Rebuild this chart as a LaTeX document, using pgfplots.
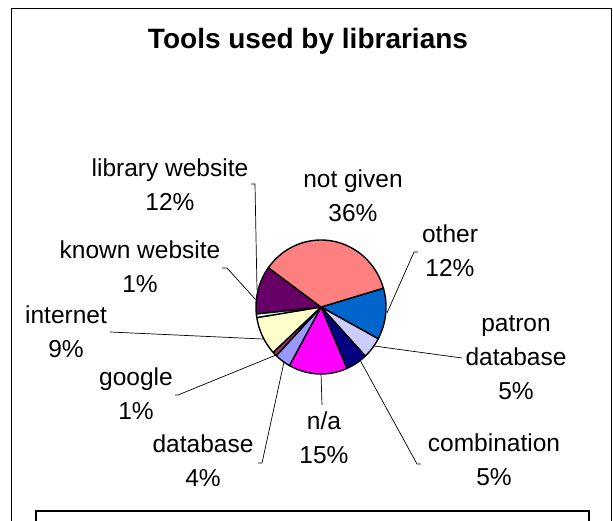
\documentclass[border=0pt]{standalone}
\usepackage{pgfplots}
\pgfplotsset{compat=1.18}
\usepackage{fontspec}
\setmainfont{Liberation Sans}

\definecolor{cOther}{HTML}{0066CC}
\definecolor{cPatron}{HTML}{CCCCFF}
\definecolor{cComb}{HTML}{000080}
\definecolor{cNA}{HTML}{FF00FF}
\definecolor{cDB}{HTML}{9999FF}
\definecolor{cGoogle}{HTML}{993366}
\definecolor{cInternet}{HTML}{FFFFCC}
\definecolor{cKnown}{HTML}{CCFFFF}
\definecolor{cLibrary}{HTML}{660066}
\definecolor{cNotGiven}{HTML}{FF8080}

\tikzset{lbl/.style={font=\fontsize{24.5}{34}\selectfont, align=center, inner sep=0pt}}

\def\cx{321}
\def\cy{213}
\def\rx{65}
\def\ry{67}
\xdef\acur{16.3}
% one pie slice: #1 = percentage, #2 = colour (clockwise from \acur)
\newcommand\slice[2]{%
  \pgfmathsetmacro\aend{\acur-3.6*#1}%
  \edef\doslice{\noexpand\addplot[fill=#2, draw=black, line width=1.4pt, line join=round, domain=\aend:\acur, samples=40]
     ({\cx+\rx*cos(x)},{\cy+\ry*sin(x)}) -- (axis cs:\cx,\cy) -- cycle;}%
  \doslice
  \xdef\acur{\aend}%
}

\begin{document}
\begin{tikzpicture}
\begin{axis}[
  hide axis, x=1pt, y=1pt,
  xmin=0, xmax=613, ymin=0, ymax=520,
  anchor=south west, at={(0,0)},
  clip=false,
]
% frames
\draw[black, line width=0.9pt] (axis cs:11,512) -- (axis cs:611.5,512) -- (axis cs:611.5,-10);
\draw[black, line width=0.9pt] (axis cs:11,512) -- (axis cs:11,-10);
\draw[black, line width=2pt] (axis cs:36,-10) -- (axis cs:36,9) -- (axis cs:589,9) -- (axis cs:589,-10);

% title
\node[anchor=base, font=\bfseries\fontsize{28}{34}\selectfont] at (axis cs:308,471) {Tools used by librarians};

% leader lines
\addplot[black, line width=0.7pt] coordinates {(251,336) (255,336) (257,230)};
\addplot[black, line width=0.7pt] coordinates {(222,252) (227,252) (255.4,220.6)};
\addplot[black, line width=0.7pt] coordinates {(110,188) (263,181)};
\addplot[black, line width=0.7pt] coordinates {(175,125) (178,125) (276,165)};
\addplot[black, line width=0.7pt] coordinates {(258,57) (262,57) (284,158)};
\addplot[black, line width=0.7pt] coordinates {(321,147) (322,115)};
\addplot[black, line width=0.7pt] coordinates {(360,160) (417,56) (421,56)};
\addplot[black, line width=0.7pt] coordinates {(374,174) (462,162)};
\addplot[black, line width=0.7pt] coordinates {(387,207) (414,268) (418,268)};

% pie slices, clockwise
\slice{12.4}{cOther}
\slice{5.2}{cPatron}
\slice{5.4}{cComb}
\slice{14.6}{cNA}
\slice{4.0}{cDB}
\slice{1.1}{cGoogle}
\slice{9.3}{cInternet}
\slice{0.9}{cKnown}
\slice{11.6}{cLibrary}
\slice{35.5}{cNotGiven}

% labels
\node[lbl] at (axis cs:353,324) {not given\\36\%};
\node[lbl] at (axis cs:450,269.5) {other\\12\%};
\node[lbl] at (axis cs:516,162) {patron\\database\\5\%};
\node[lbl] at (axis cs:494,60) {combination\\5\%};
\node[lbl] at (axis cs:324,82) {n/a\\15\%};
\node[lbl] at (axis cs:203,59.5) {database\\4\%};
\node[lbl] at (axis cs:136,126.5) {google\\1\%};
\node[lbl] at (axis cs:66,188.5) {internet\\9\%};
\node[lbl] at (axis cs:140,253.5) {known website\\1\%};
\node[lbl] at (axis cs:170,335.5) {library website\\12\%};
\end{axis}
\pgfresetboundingbox
\useasboundingbox (0,0) rectangle (613pt,520pt);
\end{tikzpicture}
\end{document}
